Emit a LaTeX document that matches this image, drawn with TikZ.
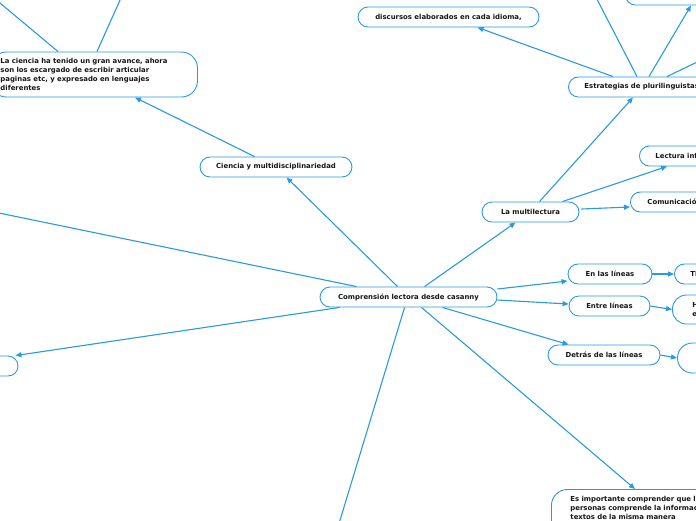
\documentclass[tikz,border=0pt]{standalone}
\usepackage{fontspec}
\setmainfont{DejaVu Sans}
\usetikzlibrary{arrows.meta}
\definecolor{MapBlue}{HTML}{2A9AE0}
\definecolor{MapInk}{HTML}{161616}
\tikzset{
  topic/.style={draw=MapBlue, line width=0.9pt, fill=white, rounded corners=10pt,
    minimum height=20pt, inner sep=0pt, text=MapInk,
    font=\bfseries\fontsize{6.9}{9}\selectfont},
  edgetopic/.style={topic, anchor=west, align=left},
  link/.style={draw=MapBlue, line width=1.1pt, -{Triangle[length=6pt,width=5pt]}}
}
\begin{document}
\begin{tikzpicture}[x=1pt,y=-1pt]
    \useasboundingbox (0,0) rectangle (696,520);
    \clip (0,0) rectangle (696,520);
    % free ends of links that leave the page
    \coordinate (offL) at (-40,205);
    \coordinate (offTL) at (-12,-7);
    \coordinate (offT1) at (129,-20);
    \coordinate (offT2) at (587,-20);
    \coordinate (offR) at (720,51);
    \coordinate (offB) at (334,540);

    \node[topic, minimum width=177pt] (casanny) at (408.5,297) {Comprensión lectora desde casanny};
    \node[topic, minimum width=152pt] (ciencia) at (276,167) {Ciencia y multidisciplinariedad};
    \node[edgetopic, minimum height=45pt, rounded corners=16pt, inner xsep=10pt, text width=187pt] (laciencia) at (-10,74.5)
      {La ciencia ha tenido un gran avance, ahora\\son los escargado de escribir articular\\paginas etc, y expresado en lenguajes\\diferentes};
    \node[topic, minimum width=181pt] (discursos) at (448.5,17) {discursos elaborados en cada idioma,};
    \node[edgetopic, inner xsep=16pt, text width=130pt] (estrategias) at (568,87) {Estrategias de plurilinguistas};
    \node[edgetopic, minimum height=30pt, inner xsep=16pt, text width=120pt] (topright) at (625,-10) {};
    \node[topic, minimum width=97pt] (multi) at (530.5,212) {La multilectura};
    \node[edgetopic, inner xsep=16pt, text width=100pt] (lecturainf) at (639,156) {Lectura inf};
    \node[edgetopic, inner xsep=17pt, text width=100pt] (comunic) at (630,202) {Comunicació};
    \node[topic, minimum width=84pt] (enlas) at (610,274) {En las líneas};
    \node[edgetopic, inner xsep=16pt, text width=60pt] (th) at (674,274) {Th};
    \node[topic, minimum width=81pt] (entre) at (609.5,306) {Entre líneas};
    \node[edgetopic, minimum height=29pt, rounded corners=14pt, inner xsep=20pt, text width=60pt] (hnode) at (672,309.5) {H\\e};
    \node[topic, minimum width=112pt] (detras) at (604,355) {Detrás de las líneas};
    \node[edgetopic, minimum height=30pt, rounded corners=15pt, inner xsep=16pt, text width=60pt] (rnode) at (677,358) {};
    \node[edgetopic, anchor=north west, rounded corners=16pt, inner xsep=19pt, inner ysep=7pt, text depth=40pt, text width=200pt] (esimp) at (551,489)
      {Es importante comprender que l\\personas comprende la informac\\textos de la misma manera};
    \node[topic, minimum width=80pt] (leftnode) at (-22,366) {};

    \draw[link] ([xshift=37pt]casanny.north west) -- (offL);
    \draw[link] ([xshift=20pt]casanny.south west) -- ([xshift=-3pt]leftnode.north east);
    \draw[link] ([xshift=78pt]casanny.north west) -- ([xshift=87pt]ciencia.south west);
    \draw[link] ([xshift=55pt]ciencia.north west) -- ([xshift=145pt]laciencia.south west);
    \draw[link] ([xshift=68pt]laciencia.north west) -- (offTL);
    \draw[link] ([xshift=107pt]laciencia.north west) -- (offT1);
    \draw[link] ([xshift=105pt]casanny.north west) -- ([xshift=34pt]multi.south west);
    \draw[link] ([xshift=58pt]multi.north west) -- ([xshift=65pt]estrategias.south west);
    \draw[link] ([xshift=81pt]multi.north west) -- ([xshift=28pt]lecturainf.south west);
    \draw[link] ([xshift=2pt,yshift=3pt]multi.east) -- ([yshift=-5pt]comunic.west);
    \draw[link] ([xshift=45pt]estrategias.north west) -- ([xshift=120pt]discursos.south west);
    \draw[link] ([xshift=69pt]estrategias.north west) -- (offT2);
    \draw[link] ([xshift=81pt]estrategias.north west) -- ([xshift=66pt]topright.south west);
    \draw[link] ([xshift=99pt]estrategias.north west) -- (offR);
    \draw[link] ([yshift=8pt]casanny.east) -- ([yshift=-7pt]enlas.west);
    \draw[link] ([yshift=-3pt]casanny.east) -- ([yshift=2pt]entre.west);
    \draw[link] ([xshift=123pt]casanny.south west) -- ([xshift=21pt]detras.north west);
    \draw[link] (enlas.east) -- (th.west);
    \draw[link] (entre.east) -- (hnode.west);
    \draw[link] (detras.east) -- (rnode.west);
    \draw[link] ([xshift=102pt]casanny.south west) -- ([xshift=84pt]esimp.north west);
    \draw[link] ([xshift=85pt]casanny.south west) -- (offB);
\end{tikzpicture}
\end{document}
